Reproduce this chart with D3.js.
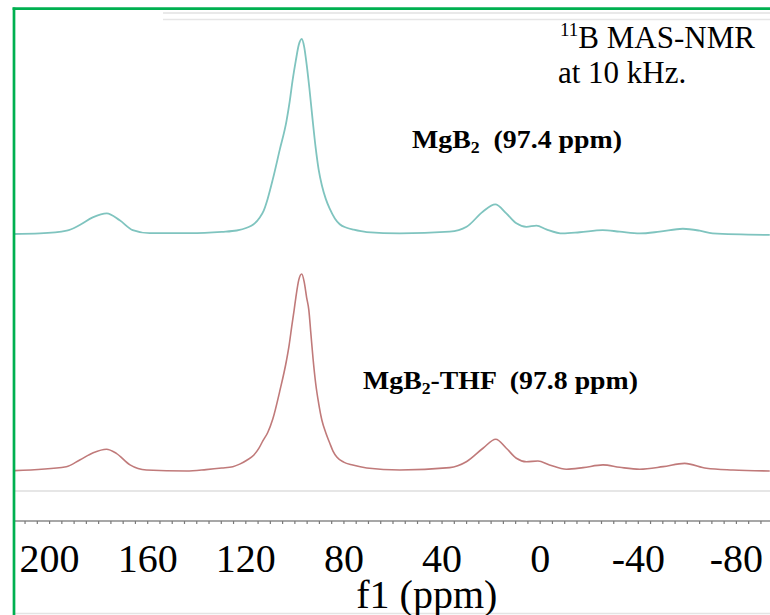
<!DOCTYPE html>
<html>
<head>
<meta charset="utf-8">
<script src="https://cdn.jsdelivr.net/npm/d3@7"></script>
<style>
  html, body { margin: 0; padding: 0; background: #fff; }
  svg { display: block; }
  text { font-family: "Liberation Serif", "Times New Roman", Times, serif; fill: #000; }
</style>
</head>
<body>
<script>
// ---- data ----
const tickValues = [200, 160, 120, 80, 40, 0, -40, -80];
const tickLabels = ["200", "160", "120", "80", "40", "0", "-40", "-80"];

// MgB2 (upper trace): chemical shift (ppm) and relative intensity
const mgb2Ppm = [214.4, 203.8, 192.8, 187.5, 182.2, 176.5, 171.2, 165.9, 159.0, 142.7, 129.6, 123.5, 119.4, 116.6, 114.1, 112.5, 110.9, 108.8, 106.0, 103.2, 101.9, 100.7, 99.4, 98.2, 97.0, 96.0, 95.0, 93.9, 92.6, 91.3, 90.1, 88.8, 87.2, 85.6, 83.5, 81.5, 78.7, 75.8, 70.5, 57.0, 36.7, 29.8, 23.2, 18.1, 13.6, 9.5, 5.4, 1.3, -2.7, -9.4, -16.3, -25.7, -32.6, -40.8, -48.9, -58.4, -65.2, -70.5, -93.8];
const mgb2Int = [0, 0.3, 1.7, 4.6, 8.5, 10.6, 7.0, 2.0, 0.4, 0.4, 1.1, 1.8, 3.2, 5.0, 8.5, 12, 18, 28, 43, 58, 68, 79, 89, 97, 100, 96, 87, 75, 59, 44, 33, 25, 18, 13, 8, 5, 3.2, 2.2, 1.0, 0.3, 1.2, 3.7, 11.4, 15.2, 10.6, 5.5, 3.7, 4.3, 2.4, 0.3, 0.9, 2.0, 1.2, 0.3, 1.2, 2.7, 1.7, 0.3, -0.5];

// MgB2-THF (lower trace)
const thfPpm = [214.0, 193.0, 187.5, 182.0, 176.6, 172.6, 167.0, 160.3, 144.0, 136.0, 129.6, 125.1, 122.3, 119.4, 116.6, 114.5, 112.8, 110.9, 108.8, 106.0, 103.2, 102.1, 101.1, 100.1, 99.4, 98.2, 97.0, 96.0, 95.0, 94.1, 93.3, 92.4, 91.3, 90.1, 88.8, 87.2, 85.6, 84.2, 82.7, 79.9, 76.2, 70.5, 57.0, 36.7, 29.9, 23.1, 17.9, 13.6, 9.5, 5.4, 0.7, -4.0, -10.9, -17.7, -25.8, -32.6, -40.8, -50.3, -59.1, -68.0, -78.8, -93.8];
const thfInt = [-0.3, 1.7, 5.1, 8.8, 10.6, 8.5, 2.6, 0, -0.5, 0.2, 1.0, 1.7, 3.0, 5.0, 7.5, 11, 15, 19, 26, 40, 56, 64, 73, 81.6, 88, 97, 100, 96, 88, 81.6, 70, 57, 44, 34, 25.5, 19, 13.8, 9.5, 6.6, 4.0, 2.5, 1.0, 0, 1.2, 4.2, 11.1, 15.7, 11.1, 6.0, 4.2, 4.6, 2.6, 0.4, 1.2, 2.6, 1.4, 0.4, 1.7, 3.4, 0.9, 0, -0.5];

const mgb2Label = { main: "MgB", sub: "2", rest: "  (97.4 ppm)" };
const thfLabel = { main: "MgB", sub: "2", rest: "-THF  (97.8 ppm)" };

// ---- layout ----
const W = 770, H = 615;
const svg = d3.select("body").append("svg").attr("width", W).attr("height", H);
svg.append("rect").attr("width", W).attr("height", H).attr("fill", "#fff");

const x = d3.scaleLinear().domain([214.3, -93.9]).range([14, 770]);
const yTop = d3.scaleLinear().domain([0, 100]).range([234, 39]);
const yBot = d3.scaleLinear().domain([0, 100]).range([470, 274]);

// faint frame lines
svg.append("line").attr("x1", 163).attr("x2", W).attr("y1", 13).attr("y2", 13)
  .attr("stroke", "#e2e2e2").attr("stroke-width", 1.5);
svg.append("line").attr("x1", 163).attr("x2", W).attr("y1", 19.5).attr("y2", 19.5)
  .attr("stroke", "#e6e6e6").attr("stroke-width", 1.5);
svg.append("line").attr("x1", 14).attr("x2", W).attr("y1", 491).attr("y2", 491)
  .attr("stroke", "#dedede").attr("stroke-width", 1.5);
svg.append("line").attr("x1", 14).attr("x2", W).attr("y1", 613.5).attr("y2", 613.5)
  .attr("stroke", "#e4e4e4").attr("stroke-width", 1.5);

// spectra
function zip(a, b) { return a.map((v, i) => [v, b[i]]); }
const lineTop = d3.line().x(d => x(d[0])).y(d => yTop(d[1])).curve(d3.curveMonotoneX);
const lineBot = d3.line().x(d => x(d[0])).y(d => yBot(d[1])).curve(d3.curveMonotoneX);

svg.append("path").datum(zip(mgb2Ppm, mgb2Int)).attr("d", lineTop)
  .attr("fill", "none").attr("stroke", "#7fc4bf").attr("stroke-width", 1.8);
svg.append("path").datum(zip(thfPpm, thfInt)).attr("d", lineBot)
  .attr("fill", "none").attr("stroke", "#c07a7a").attr("stroke-width", 1.6);

// x axis
const minorTicks = d3.range(210, -95, -5);
const axisG = svg.append("g").attr("transform", "translate(0,521)");
axisG.call(d3.axisBottom(x).tickValues(minorTicks).tickSize(3).tickFormat(""));
axisG.select(".domain").attr("stroke", "#8a8a8a").attr("stroke-width", 1.5)
  .attr("d", `M14,0H${W}`);
axisG.selectAll(".tick line").attr("stroke", "#7a7a7a").attr("stroke-width", 1.2);

const labelG = svg.append("g").attr("transform", "translate(0,521)");
labelG.call(d3.axisBottom(x).tickValues(tickValues).tickSize(0).tickPadding(0)
  .tickFormat((d, i) => tickLabels[i]));
labelG.select(".domain").remove();
labelG.attr("font-family", null);
labelG.selectAll(".tick text")
  .attr("y", 51).attr("dy", null)
  .style("font-family", "'Liberation Serif', 'Times New Roman', serif")
  .style("font-size", "40px").attr("fill", "#000");

svg.append("text").attr("x", x(46)).attr("y", 608).attr("text-anchor", "middle")
  .style("font-size", "40px").text("f1 (ppm)");

// annotation
const ann = svg.append("text").attr("x", 560).attr("y", 48).style("font-size", "31px");
ann.append("tspan").attr("dy", -12).style("font-size", "19px").text("11");
ann.append("tspan").attr("dy", 12).text("B MAS-NMR");
svg.append("text").attr("x", 558).attr("y", 83).style("font-size", "31px").text("at 10 kHz.");

function compoundLabel(lbl, x0, y0, width) {
  const t = svg.append("text").attr("x", x0).attr("y", y0)
    .style("font-size", "25px").style("font-weight", "bold")
    .style("white-space", "pre")
    .attr("textLength", width).attr("lengthAdjust", "spacingAndGlyphs");
  t.append("tspan").text(lbl.main);
  t.append("tspan").attr("dy", 5).style("font-size", "16px").text(lbl.sub);
  t.append("tspan").attr("dy", -5).text(lbl.rest);
}
compoundLabel(mgb2Label, 412, 148, 210);
compoundLabel(thfLabel, 363, 389, 275);

// green border
svg.append("line").attr("x1", 12.6).attr("x2", W).attr("y1", 8.7).attr("y2", 8.7)
  .attr("stroke", "#00b050").attr("stroke-width", 2.7);
svg.append("line").attr("x1", 14).attr("x2", 14).attr("y1", 7.4).attr("y2", H)
  .attr("stroke", "#00b050").attr("stroke-width", 2.7);
</script>
</body>
</html>
